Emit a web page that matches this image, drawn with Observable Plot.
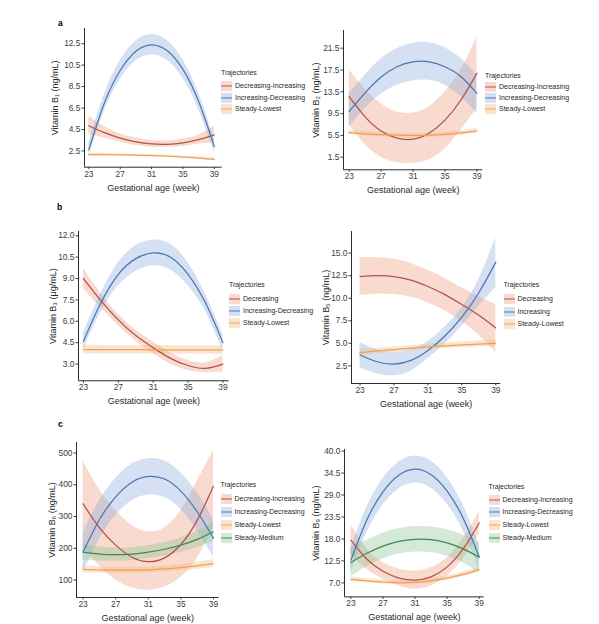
<!DOCTYPE html>
<html><head><meta charset="utf-8">
<script src="https://cdn.jsdelivr.net/npm/d3@7"></script>
<script src="https://cdn.jsdelivr.net/npm/@observablehq/plot@0.6"></script>
<style>
body{margin:0;background:#fff;}
#fig{position:relative;width:599px;height:624px;font-family:"Liberation Sans",Arial,sans-serif;overflow:hidden;background:#fff}
.t{position:absolute;white-space:nowrap;line-height:10px;transform:translateY(-50%);color:#1f1f1f}
.k{position:absolute;transform:translateY(-50%)}
.lab{position:absolute;font-weight:bold;font-size:8.5px;line-height:10px;transform:translateY(-50%)}
</style>
</head><body><div id="fig"></div>
<script>
// ---------- shared ----------
const weeks = [23, 25, 27, 29, 31, 33, 35, 37, 39];
const xTicks = [23, 27, 31, 35, 39];
const xTitle = "Gestational age (week)";
const legendTitle = "Trajectories";
const DI = "Decreasing-Increasing", ID = "Increasing-Decreasing", SL = "Steady-Lowest",
      SM = "Steady-Medium", DEC = "Decreasing", INC = "Increasing";
const lineColor = {[DI]:"#b3524b",[DEC]:"#b3524b",[ID]:"#4977b0",[INC]:"#4977b0",[SL]:"#eda15c",[SM]:"#3e8a56"};
const bandColor = {[DI]:"#ec9877",[DEC]:"#ec9877",[ID]:"#8aabdf",[INC]:"#8aabdf",[SL]:"#f6b677",[SM]:"#88c194"};

// ---------- panel a (left): Vitamin B1 ----------
const a1_cats = [DI, ID, SL];
const a1_yTicks = [2.5, 4.5, 6.5, 8.5, 10.5, 12.5];
const a1_DI_mean = [4.85, 4.2, 3.7, 3.35, 3.15, 3.12, 3.25, 3.55, 4.0];
const a1_DI_lo   = [4.0, 3.7, 3.3, 3.0, 2.85, 2.83, 2.93, 3.15, 3.25];
const a1_DI_hi   = [5.7, 4.75, 4.1, 3.7, 3.47, 3.43, 3.6, 3.98, 4.8];
const a1_ID_mean = [2.6, 7.0, 10.0, 11.8, 12.4, 11.85, 10.1, 7.1, 2.9];
const a1_ID_lo   = [2.0, 6.25, 9.15, 10.9, 11.45, 10.95, 9.25, 6.35, 2.3];
const a1_ID_hi   = [3.25, 7.8, 10.9, 12.75, 13.35, 12.8, 11.0, 7.9, 3.6];
const a1_SL_mean = [2.15, 2.15, 2.13, 2.1, 2.07, 2.01, 1.93, 1.83, 1.7];
const a1_SL_lo   = [2.03, 2.05, 2.04, 2.01, 1.98, 1.92, 1.83, 1.71, 1.56];
const a1_SL_hi   = [2.27, 2.25, 2.22, 2.19, 2.16, 2.1, 2.03, 1.95, 1.84];

// ---------- panel a (right): Vitamin B2 ----------
const a2_cats = [DI, ID, SL];
const a2_yTicks = [1.5, 5.5, 9.5, 13.5, 17.5, 21.5];
const a2_DI_mean = [12.6, 8.9, 6.3, 5.0, 4.8, 5.9, 8.3, 12.0, 16.9];
const a2_DI_lo   = [7.5, 3.8, 1.5, 0.5, 0.4, 1.0, 3.0, 6.5, 10.4];
const a2_DI_hi   = [17.5, 14.0, 11.3, 9.8, 9.6, 10.7, 13.5, 17.5, 23.5];
const a2_ID_mean = [9.9, 13.3, 16.2, 18.1, 19.0, 19.0, 18.1, 16.3, 13.2];
const a2_ID_lo   = [7.0, 10.5, 13.0, 14.7, 15.5, 15.6, 14.7, 12.6, 9.6];
const a2_ID_hi   = [13.2, 16.6, 19.5, 21.4, 22.4, 22.5, 21.6, 19.6, 16.6];
const a2_SL_mean = [6.0, 5.8, 5.65, 5.55, 5.5, 5.55, 5.7, 5.95, 6.35];
const a2_SL_lo   = [5.6, 5.4, 5.25, 5.15, 5.1, 5.15, 5.3, 5.55, 5.9];
const a2_SL_hi   = [6.4, 6.2, 6.05, 5.95, 5.9, 5.95, 6.1, 6.35, 6.8];

// ---------- panel b (left): Vitamin B3 ----------
const b1_cats = [DEC, ID, SL];
const b1_yTicks = [3.0, 4.5, 6.0, 7.5, 9.0, 10.5, 12.0];
const b1_DEC_mean = [9.0, 7.45, 6.1, 5.0, 4.15, 3.4, 2.9, 2.7, 3.0];
const b1_DEC_lo   = [8.3, 6.95, 5.7, 4.6, 3.75, 3.0, 2.55, 2.4, 2.45];
const b1_DEC_hi   = [9.7, 7.95, 6.5, 5.4, 4.55, 3.8, 3.25, 3.1, 3.6];
const b1_ID_mean  = [4.6, 7.3, 9.3, 10.4, 10.8, 10.5, 9.3, 7.3, 4.5];
const b1_ID_lo    = [4.0, 6.65, 8.5, 9.5, 9.9, 9.6, 8.5, 6.7, 3.9];
const b1_ID_hi    = [5.2, 7.95, 10.1, 11.3, 11.7, 11.4, 10.1, 7.9, 5.1];
const b1_SL_mean  = [4.02, 4.02, 4.02, 4.01, 4.0, 4.0, 4.0, 3.99, 3.98];
const b1_SL_lo    = [3.72, 3.73, 3.73, 3.72, 3.71, 3.71, 3.71, 3.7, 3.68];
const b1_SL_hi    = [4.32, 4.31, 4.31, 4.3, 4.29, 4.29, 4.29, 4.28, 4.28];

// ---------- panel b (right): Vitamin B5 ----------
const b2_cats = [DEC, INC, SL];
const b2_yTicks = [2.5, 5.0, 7.5, 10.0, 12.5, 15.0];
const b2_DEC_mean = [12.4, 12.5, 12.4, 12.0, 11.3, 10.4, 9.3, 8.1, 6.7];
const b2_DEC_lo   = [10.3, 10.45, 10.4, 10.1, 9.5, 8.6, 7.4, 5.9, 4.0];
const b2_DEC_hi   = [14.5, 14.5, 14.35, 13.85, 13.1, 12.2, 11.15, 10.2, 9.3];
const b2_INC_mean = [3.7, 2.95, 2.7, 3.1, 4.2, 5.8, 7.9, 10.6, 14.0];
const b2_INC_lo   = [2.3, 1.6, 1.4, 1.9, 3.3, 4.9, 6.9, 9.1, 11.2];
const b2_INC_hi   = [5.1, 4.3, 4.0, 4.3, 5.2, 6.8, 8.9, 12.1, 16.7];
const b2_SL_mean  = [3.95, 4.15, 4.3, 4.45, 4.6, 4.72, 4.83, 4.92, 5.0];
const b2_SL_lo    = [3.55, 3.85, 4.02, 4.17, 4.3, 4.42, 4.53, 4.6, 4.6];
const b2_SL_hi    = [4.35, 4.45, 4.58, 4.73, 4.9, 5.02, 5.13, 5.24, 5.4];

// ---------- panel c (left): Vitamin B6 ----------
const c1_cats = [DI, ID, SL, SM];
const c1_yTicks = [100, 200, 300, 400, 500];
const c1_DI_mean = [340, 265, 210, 172, 158, 170, 212, 288, 395];
const c1_DI_lo   = [205, 145, 100, 75, 68, 78, 108, 168, 268];
const c1_DI_hi   = [475, 385, 320, 272, 252, 265, 318, 410, 508];
const c1_ID_mean = [188, 290, 362, 408, 426, 418, 380, 315, 232];
const c1_ID_lo   = [125, 228, 303, 350, 368, 360, 322, 255, 172];
const c1_ID_hi   = [250, 350, 420, 465, 482, 475, 438, 375, 292];
const c1_SL_mean = [134, 132, 131, 131, 132, 135, 139, 145, 152];
const c1_SL_lo   = [122, 122, 122, 122, 123, 126, 129, 134, 139];
const c1_SL_hi   = [146, 142, 140, 140, 141, 144, 149, 156, 165];
const c1_SM_mean = [188, 182, 180, 182, 188, 197, 210, 228, 252];
const c1_SM_lo   = [163, 160, 160, 162, 167, 176, 187, 202, 222];
const c1_SM_hi   = [213, 204, 200, 202, 209, 218, 233, 254, 282];

// ---------- panel c (right): Vitamin B9 ----------
const c2_cats = [DI, ID, SL, SM];
const c2_yTicks = [7.0, 12.5, 18.0, 23.5, 29.0, 34.5, 40.0];
const c2_DI_mean = [17.7, 12.9, 9.9, 8.2, 7.7, 8.5, 11.0, 15.5, 22.0];
const c2_DI_lo   = [14.0, 10.4, 7.9, 6.2, 5.4, 6.2, 8.7, 13.0, 19.2];
const c2_DI_hi   = [21.6, 15.5, 12.1, 10.4, 10.0, 10.8, 13.3, 18.0, 24.8];
const c2_ID_mean = [12.7, 22.8, 29.8, 34.0, 35.5, 34.1, 30.0, 23.2, 13.5];
const c2_ID_lo   = [9.7, 19.6, 26.5, 30.6, 32.0, 30.7, 26.7, 20.0, 10.5];
const c2_ID_hi   = [15.7, 26.0, 33.1, 37.3, 38.8, 37.5, 33.4, 26.5, 16.5];
const c2_SL_mean = [7.9, 7.5, 7.2, 7.05, 7.1, 7.5, 8.2, 9.1, 10.3];
const c2_SL_lo   = [7.3, 7.0, 6.75, 6.6, 6.65, 7.0, 7.65, 8.5, 9.6];
const c2_SL_hi   = [8.5, 8.0, 7.65, 7.5, 7.55, 8.0, 8.75, 9.7, 11.0];
const c2_SM_mean = [12.1, 14.4, 16.2, 17.4, 17.9, 17.8, 17.0, 15.5, 13.4];
const c2_SM_lo   = [8.5, 11.1, 13.0, 14.2, 14.7, 14.6, 13.7, 12.0, 9.6];
const c2_SM_hi   = [15.7, 17.7, 19.4, 20.6, 21.1, 21.0, 20.3, 19.0, 17.2];

// ---------- layout ----------
const panels = [
  {ylabel:"Vitamin B\u2081 (ng/mL)", cats:a1_cats, yTicks:a1_yTicks, dec:1,
   series:[[a1_DI_mean,a1_DI_lo,a1_DI_hi],[a1_ID_mean,a1_ID_lo,a1_ID_hi],[a1_SL_mean,a1_SL_lo,a1_SL_hi]],
   X0:84.3, X1:222, Y0:28.3, Y1:167, xDomain:[22.45,40.0], yDomain:[0.98,13.92], yOff:29.3,
   leg:{x:221, ty:73, y0:86, step:11.5}},
  {ylabel:"Vitamin B\u2082 (ng/mL)", cats:a2_cats, yTicks:a2_yTicks, dec:1,
   series:[[a2_DI_mean,a2_DI_lo,a2_DI_hi],[a2_ID_mean,a2_ID_lo,a2_ID_hi],[a2_SL_mean,a2_SL_lo,a2_SL_hi]],
   X0:343.3, X1:482.7, Y0:30, Y1:169.3, xDomain:[22.29,39.75], yDomain:[-0.81,24.75], yOff:27.8,
   leg:{x:485, ty:76, y0:86.5, step:11.3}},
  {ylabel:"Vitamin B\u2083 (\u03bcg/mL)", cats:b1_cats, yTicks:b1_yTicks, dec:1,
   series:[[b1_DEC_mean,b1_DEC_lo,b1_DEC_hi],[b1_ID_mean,b1_ID_lo,b1_ID_hi],[b1_SL_mean,b1_SL_lo,b1_SL_hi]],
   X0:78.3, X1:229, Y0:230.7, Y1:380, xDomain:[22.43,39.72], yDomain:[1.83,12.3], yOff:25,
   leg:{x:229, ty:285, y0:299, step:12}},
  {ylabel:"Vitamin B\u2085 (ng/mL)", cats:b2_cats, yTicks:b2_yTicks, dec:1,
   series:[[b2_DEC_mean,b2_DEC_lo,b2_DEC_hi],[b2_INC_mean,b2_INC_lo,b2_INC_hi],[b2_SL_mean,b2_SL_lo,b2_SL_hi]],
   X0:350.7, X1:500, Y0:230.7, Y1:382.7, xDomain:[21.99,39.59], yDomain:[0.54,17.4], yOff:25,
   leg:{x:503.5, ty:285, y0:299, step:12.5}},
  {ylabel:"Vitamin B\u2086 (ng/mL)", cats:c1_cats, yTicks:c1_yTicks, dec:0,
   series:[[c1_DI_mean,c1_DI_lo,c1_DI_hi],[c1_ID_mean,c1_ID_lo,c1_ID_hi],[c1_SL_mean,c1_SL_lo,c1_SL_hi],[c1_SM_mean,c1_SM_lo,c1_SM_hi]],
   X0:75.7, X1:218.3, Y0:441.7, Y1:596.7, xDomain:[22.19,39.69], yDomain:[45.2,533], yOff:24,
   leg:{x:220.5, ty:485, y0:499, step:13}},
  {ylabel:"Vitamin B\u2089 (ng/mL)", cats:c2_cats, yTicks:c2_yTicks, dec:1,
   series:[[c2_DI_mean,c2_DI_lo,c2_DI_hi],[c2_ID_mean,c2_ID_lo,c2_ID_hi],[c2_SL_mean,c2_SL_lo,c2_SL_hi],[c2_SM_mean,c2_SM_lo,c2_SM_hi]],
   X0:344.3, X1:484, Y0:449.3, Y1:596.7, xDomain:[22.2,39.62], yDomain:[3.49,40.4], yOff:28,
   leg:{x:488.5, ty:487, y0:499.5, step:12.8}}
];
const panelLetters = [{t:"a", x:58, y:23}, {t:"b", x:57, y:207}, {t:"c", x:58, y:424}];

const fig = document.getElementById("fig");
const mL = 44, mT = 4, mR = 4, mB = 30;

for (const p of panels) {
  const w = p.X1 - p.X0 + mL + mR, h = p.Y1 - p.Y0 + mT + mB;
  const groups = p.series.map(([m, lo, hi], j) => ({
    traj: p.cats[j],
    rows: weeks.map((wk, i) => ({week: wk, mean: m[i], lo: lo[i], hi: hi[i]}))
  }));
  const marks = [];
  for (const g of groups)
    marks.push(Plot.areaY(g.rows, {x:"week", y1:"lo", y2:"hi", curve:"natural",
      fill: bandColor[g.traj], fillOpacity: 0.36}));
  for (const g of groups)
    marks.push(Plot.line(g.rows, {x:"week", y:"mean", curve:"natural",
      stroke: lineColor[g.traj], strokeWidth: 1.25}));
  marks.push(Plot.ruleX([p.xDomain[0]], {stroke:"#2b2b2b", strokeWidth:1}));
  marks.push(Plot.ruleY([p.yDomain[0]], {stroke:"#2b2b2b", strokeWidth:1}));
  marks.push(Plot.axisX({ticks: xTicks, tickSize: 2.5, tickPadding: 1, label: null,
    fontSize: 8.4, color: "#3d3d3d"}));
  marks.push(Plot.axisY({ticks: p.yTicks, tickSize: 2.5, tickPadding: 1.5, label: null,
    fontSize: 8.4, color: "#3d3d3d", tickFormat: d => d.toFixed(p.dec)}));
  marks.push(Plot.text([xTitle], {text: d => d, frameAnchor: "bottom", dy: 20.5,
    lineAnchor: "middle", textAnchor: "middle", fontSize: 9, fill: "#2a2a2a"}));
  marks.push(Plot.text([p.ylabel], {text: d => d, frameAnchor: "left", dx: -p.yOff,
    rotate: -90, lineAnchor: "middle", textAnchor: "middle", fontSize: 9, fill: "#2a2a2a"}));
  const svg = Plot.plot({
    width: w, height: h, marginLeft: mL, marginRight: mR, marginTop: mT, marginBottom: mB,
    x: {domain: p.xDomain}, y: {domain: p.yDomain},
    style: {fontFamily: "Liberation Sans, Arial, sans-serif", background: "transparent", overflow: "visible"},
    marks
  });
  svg.style.position = "absolute";
  svg.style.left = (p.X0 - mL) + "px";
  svg.style.top = (p.Y0 - mT) + "px";
  fig.appendChild(svg);

  // legend
  const L = p.leg;
  const tt = document.createElement("div");
  tt.className = "t"; tt.textContent = legendTitle;
  tt.style.left = L.x + "px"; tt.style.top = L.ty + "px"; tt.style.fontSize = "6.9px";
  fig.appendChild(tt);
  p.cats.forEach((c, i) => {
    const yc = L.y0 + i * L.step;
    const k = document.createElementNS("http://www.w3.org/2000/svg", "svg");
    k.setAttribute("width", 11); k.setAttribute("height", 10.5);
    k.setAttribute("class", "k");
    k.style.left = L.x + "px"; k.style.top = yc + "px";
    k.innerHTML = `<rect x="0" y="0" width="11" height="10.5" fill="${bandColor[c]}" fill-opacity="0.36"/>` +
      `<line x1="0" x2="11" y1="5.25" y2="5.25" stroke="${lineColor[c]}" stroke-width="1.2"/>`;
    fig.appendChild(k);
    const t = document.createElement("div");
    t.className = "t"; t.textContent = c;
    t.style.left = (L.x + 14) + "px"; t.style.top = yc + "px"; t.style.fontSize = "7px";
    fig.appendChild(t);
  });
}
for (const l of panelLetters) {
  const d = document.createElement("div");
  d.className = "lab"; d.textContent = l.t;
  d.style.left = l.x + "px"; d.style.top = l.y + "px";
  fig.appendChild(d);
}
</script>
</body></html>
